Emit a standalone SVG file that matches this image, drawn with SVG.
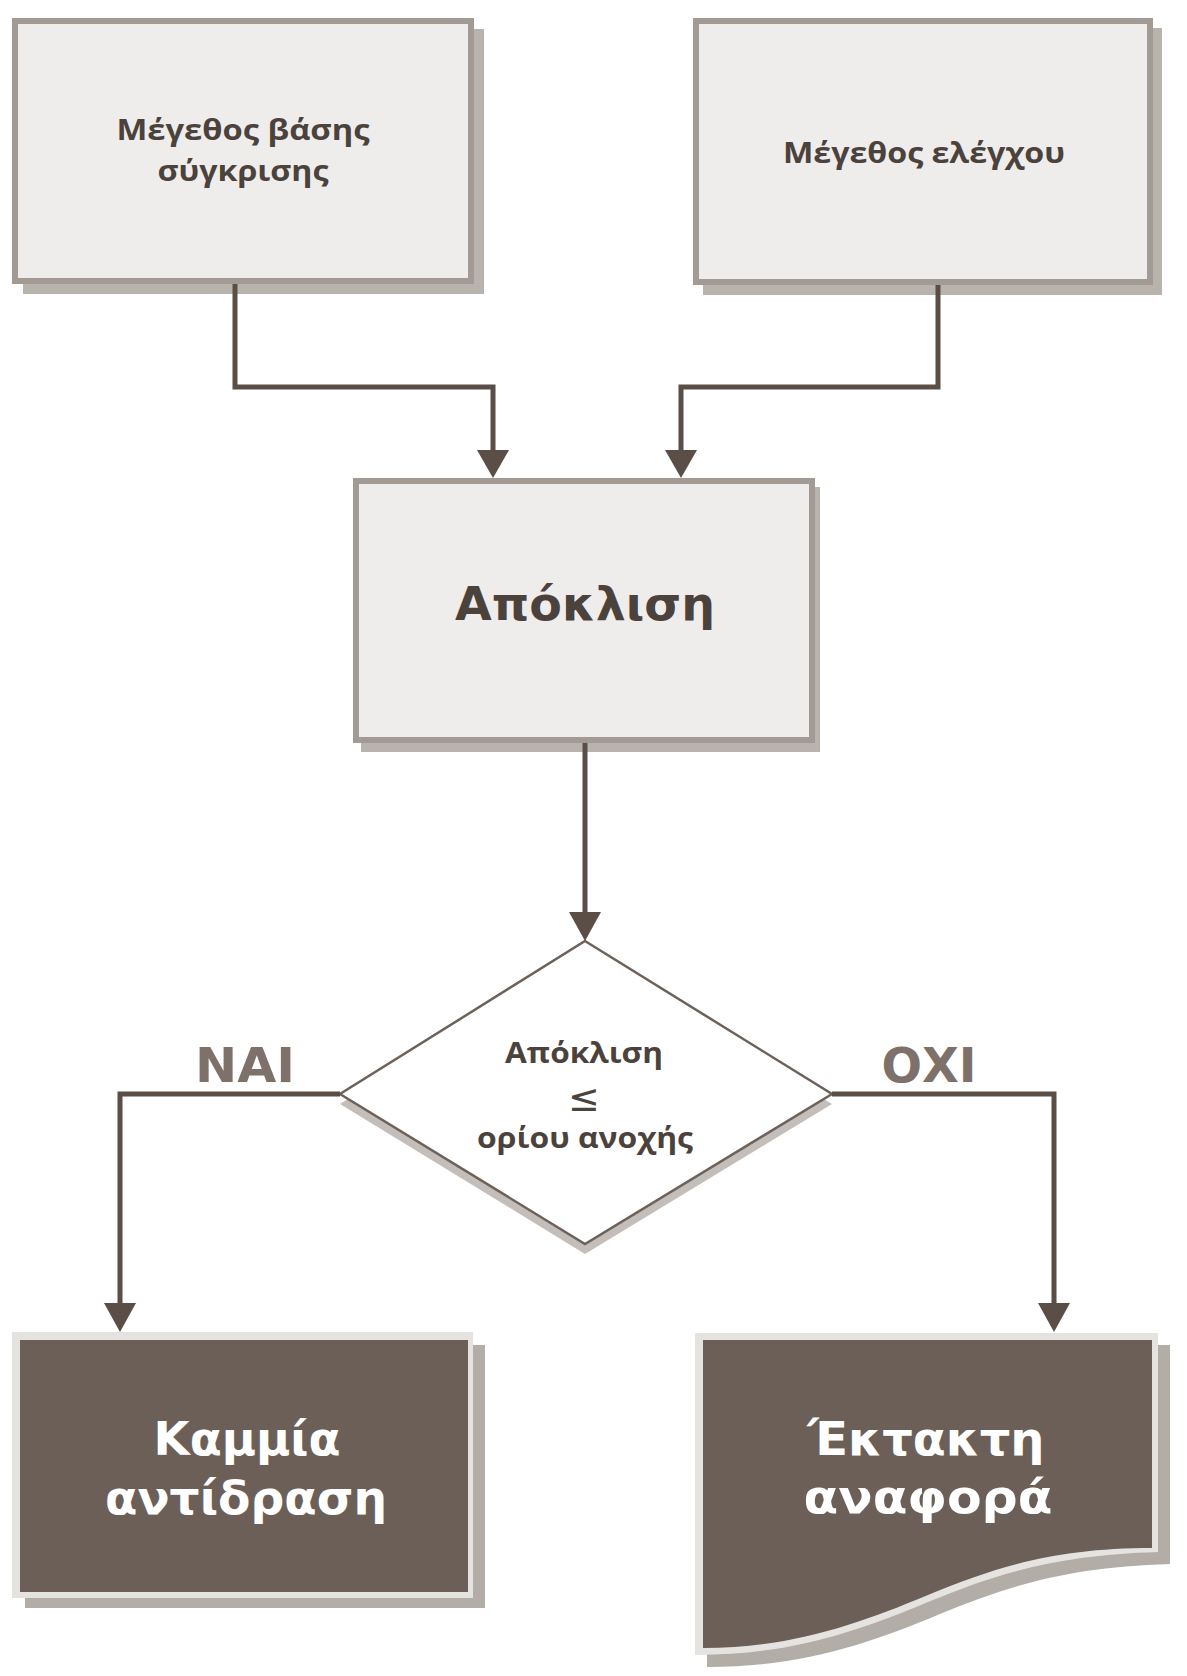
<svg xmlns="http://www.w3.org/2000/svg" width="1187" height="1676" viewBox="0 0 1187 1676">
<defs>
<style>
.shadow{fill:#b9b3ae}
.lbox{fill:#eeedeb;stroke:#a29a94;stroke-width:6}
.dshadow{fill:#b3ada8}
.dborder{fill:#e5e3e0}
.dfill{fill:#6c5f57}
.conn{fill:none;stroke:#5a4e47;stroke-width:5;stroke-linejoin:miter}
.head{fill:#5a4e47}
.t1{font-family:"Open Sans","DejaVu Sans",sans-serif;font-weight:700;fill:#4c423c;text-anchor:middle}
.le{font-family:"DejaVu Sans","Open Sans",sans-serif;font-weight:400;fill:#4c423c;text-anchor:middle}
.t2{font-family:"DejaVu Sans","Open Sans",sans-serif;font-weight:700;text-anchor:middle}
.dark{fill:#4c423c}
.white{fill:#ffffff}
.lbl{fill:#7e7169}
</style>
</defs>
<rect width="1187" height="1676" fill="#ffffff"/>

<g id="node-base">
<rect class="shadow" x="23" y="29" width="461" height="265"/>
<rect class="lbox" x="15" y="21" width="456" height="260"/>
<text class="t1" x="243" y="140" font-size="28" textLength="253" lengthAdjust="spacingAndGlyphs">Μέγεθος βάσης</text>
<text class="t1" x="243" y="181" font-size="28" textLength="171" lengthAdjust="spacingAndGlyphs">σύγκρισης</text>
</g>

<g id="node-control">
<rect class="shadow" x="703" y="28" width="459" height="267"/>
<rect class="lbox" x="696" y="21" width="454" height="261"/>
<text class="t1" x="924" y="163" font-size="28" textLength="282" lengthAdjust="spacingAndGlyphs">Μέγεθος ελέγχου</text>
</g>

<g id="node-deviation">
<rect class="shadow" x="361" y="487" width="459" height="265"/>
<rect class="lbox" x="356" y="481" width="456" height="259"/>
<text class="t2 dark" x="585" y="620" font-size="46" textLength="260" lengthAdjust="spacingAndGlyphs">Απόκλιση</text>
</g>

<g id="node-decision">
<polygon points="585,951 832,1104 585,1254 340,1104" fill="#c3beb9"/>
<polygon points="585,941 832,1094 585,1244 340,1094" fill="#ffffff" stroke="#6d625b" stroke-width="2.5"/>
<text class="t1" x="584" y="1063" font-size="29" textLength="158" lengthAdjust="spacingAndGlyphs">Απόκλιση</text>
<text class="le" x="584" y="1111" font-size="38">≤</text>
<text class="t1" x="585" y="1148" font-size="29" textLength="216" lengthAdjust="spacingAndGlyphs">ορίου ανοχής</text>
</g>

<g id="node-noaction">
<rect class="dshadow" x="25" y="1345" width="460" height="263"/>
<rect class="dborder" x="12" y="1332" width="461" height="266"/>
<rect class="dfill" x="20" y="1340" width="448" height="252"/>
<text class="t2 white" x="247" y="1455" font-size="46" textLength="187" lengthAdjust="spacingAndGlyphs">Καμμία</text>
<text class="t2 white" x="246" y="1514" font-size="46" textLength="282" lengthAdjust="spacingAndGlyphs">αντίδραση</text>
</g>

<g id="node-report">
<path class="dshadow" d="M707,1345 H1170 V1564 C1072,1567 1012,1584 940,1614 C868,1644 802,1667 707,1667 Z"/>
<path class="dborder" d="M695,1333 H1158 V1552 C1060,1555 1000,1572 928,1602 C856,1632 790,1655 695,1655 Z"/>
<path class="dfill" d="M703,1340 H1152 V1548 C1060,1548 1000,1565 928,1595 C856,1625 790,1648 703,1648 Z"/>
<text class="t2 white" x="926" y="1455" font-size="46" textLength="237" lengthAdjust="spacingAndGlyphs">Έκτακτη</text>
<text class="t2 white" x="928" y="1513" font-size="46" textLength="249" lengthAdjust="spacingAndGlyphs">αναφορά</text>
</g>

<g id="connectors">
<polyline class="conn" points="235,284 235,387 493,387 493,452"/>
<polygon class="head" points="477,450 509,450 493,478"/>
<polyline class="conn" points="938,285 938,387 681,387 681,452"/>
<polygon class="head" points="665,450 697,450 681,478"/>
<line class="conn" x1="585" y1="743" x2="585" y2="915"/>
<polygon class="head" points="569,912 601,912 585,941"/>
<polyline class="conn" points="340,1094 120,1094 120,1305"/>
<polygon class="head" points="104,1303 136,1303 120,1332"/>
<polyline class="conn" points="832,1094 1054,1094 1054,1305"/>
<polygon class="head" points="1038,1303 1070,1303 1054,1332"/>
<text class="t2 lbl" x="245" y="1082" font-size="48" textLength="100" lengthAdjust="spacingAndGlyphs">ΝΑΙ</text>
<text class="t2 lbl" x="929" y="1082" font-size="48" textLength="95" lengthAdjust="spacingAndGlyphs">ΟΧΙ</text>
</g>
</svg>
